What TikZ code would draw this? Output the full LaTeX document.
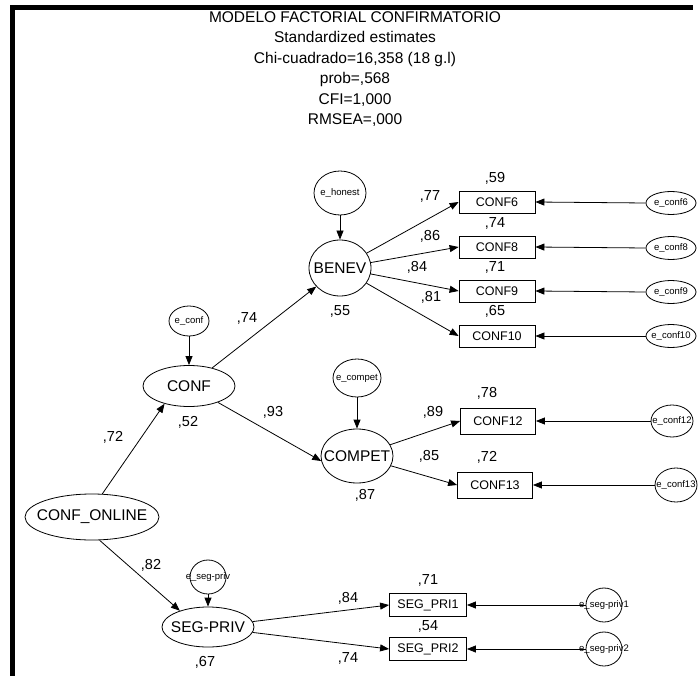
\documentclass[tikz,border=0pt]{standalone}
\usepackage{fontspec}
\setmainfont{Liberation Sans}
\usepackage{tikz}
\usetikzlibrary{arrows.meta,positioning,shapes.geometric}

\newcommand{\elab}[1]{\makebox[0pt]{#1}}

\begin{document}
\begin{tikzpicture}[x=1pt,y=-1pt,line width=0.8pt,>={Triangle[length=9pt,width=7pt]},
  lat/.style={draw,ellipse,inner sep=0pt,font=\fontsize{15.5}{16}\selectfont},
  err/.style={draw,ellipse,inner sep=0pt,font=\fontsize{9.5}{10}\selectfont},
  obs/.style={draw,rectangle,minimum width=76pt,minimum height=22pt,inner sep=0pt,
              font=\fontsize{12.5}{13}\selectfont},
  coef/.style={font=\fontsize{14.5}{15}\selectfont},
  ttl/.style={anchor=base,font=\fontsize{15.5}{16}\selectfont}]
  \useasboundingbox (0,0) rectangle (698,676);

  % frame
  \fill (10,5) rectangle (15,676);
  \fill (10,5) rectangle (693,10);

  % title
  \node[ttl] (t1) at (355,22.5) {MODELO FACTORIAL CONFIRMATORIO};
  \node[ttl] (t2) at (355,43)   {Standardized estimates};
  \node[ttl] (t3) at (355,63.5) {Chi-cuadrado=16,358 (18 g.l)};
  \node[ttl] (t4) at (355,84)   {prob=,568};
  \node[ttl] (t5) at (355,104.5) {CFI=1,000};
  \node[ttl] (t6) at (355,125)  {RMSEA=,000};

  % latent variables
  \node[lat,minimum width=134pt,minimum height=46pt] (confon) at (92,517) {\elab{CONF\_ONLINE}};
  \node[lat,minimum width=92pt,minimum height=41pt] (conf) at (189,386) {\elab{CONF}};
  \node[lat,minimum width=62pt,minimum height=56pt] (benev) at (340,268) {\elab{BENEV}};
  \node[lat,minimum width=72pt,minimum height=54pt] (compet) at (357,456) {\elab{COMPET}};
  \node[lat,minimum width=92pt,minimum height=40pt] (segpriv) at (208,627) {\elab{SEG-PRIV}};

  % disturbances
  \node[err,minimum width=40pt,minimum height=30pt] (econf) at (189,321) {\elab{e\_conf}};
  \node[err,minimum width=52pt,minimum height=44pt] (ehonest) at (340,193) {\elab{e\_honest}};
  \node[err,minimum width=48pt,minimum height=38pt] (ecompet) at (357,378) {\elab{e\_compet}};
  \node[err,minimum width=36pt,minimum height=34pt] (esegpriv) at (208,577) {\elab{e\_seg-priv}};

  % indicators
  \node[obs] (conf6)  at (497,202) {CONF6};
  \node[obs] (conf8)  at (497,247) {CONF8};
  \node[obs] (conf9)  at (497,291) {CONF9};
  \node[obs] (conf10) at (497,336) {CONF10};
  \node[obs,minimum width=75pt,minimum height=26pt] (conf12) at (498,421) {CONF12};
  \node[obs,minimum width=75pt,minimum height=26pt] (conf13) at (495,485) {CONF13};
  \node[obs,minimum width=77pt,minimum height=23pt] (segpri1) at (428,605) {SEG\_PRI1};
  \node[obs,minimum width=77pt,minimum height=23pt] (segpri2) at (428,649) {SEG\_PRI2};

  % measurement errors
  \node[err,minimum width=50pt,minimum height=23pt] (econf6)  at (671,203) {\elab{e\_conf6}};
  \node[err,minimum width=50pt,minimum height=23pt] (econf8)  at (671,248) {\elab{e\_conf8}};
  \node[err,minimum width=50pt,minimum height=23pt] (econf9)  at (671,292) {\elab{e\_conf9}};
  \node[err,minimum width=50pt,minimum height=23pt] (econf10) at (671,336) {\elab{e\_conf10}};
  \node[err,minimum width=42pt,minimum height=32pt] (econf12) at (672,421) {\elab{e\_conf12}};
  \node[err,minimum width=42pt,minimum height=34pt] (econf13) at (676,485) {\elab{e\_conf13}};
  \node[err,minimum width=36pt,minimum height=34pt] (esegpriv1) at (604,605) {\elab{e\_seg-priv1}};
  \node[err,minimum width=36pt,minimum height=34pt] (esegpriv2) at (604,649) {\elab{e\_seg-priv2}};

  % structural paths
  \draw[->] (confon.66) -- (conf.216);
  \draw[->] (confon.-72) -- (segpriv.150);
  \draw[->] (conf) -- (benev);
  \draw[->] (conf) -- (compet.188);
  \draw[->] (econf) -- (conf);
  \draw[->] (ehonest) -- (benev);
  \draw[->] (ecompet) -- (compet);
  \draw[->] (esegpriv) -- (segpriv);

  % loadings
  \foreach \v in {conf6,conf8,conf9,conf10}
    \draw[->] (benev) -- (\v.west);
  \draw[->] (compet) -- (conf12.west);
  \draw[->] (compet) -- (conf13.west);
  \draw[->] (segpriv) -- (segpri1.west);
  \draw[->] (segpriv) -- (segpri2.west);

  % errors on indicators
  \foreach \e/\v in {econf6/conf6,econf8/conf8,econf9/conf9,econf10/conf10,
                     econf12/conf12,econf13/conf13,esegpriv1/segpri1,esegpriv2/segpri2}
    \draw[->] (\e.west) -- (\v.east);

  % estimates
  \node[coef] (k1)  at (113,437) {,72};
  \node[coef] (k2)  at (151,565) {,82};
  \node[coef] (k3)  at (247,318) {,74};
  \node[coef] (k4)  at (273,412) {,93};
  \node[coef] (k5)  at (188,422) {,52};
  \node[coef] (k6)  at (340,311) {,55};
  \node[coef] (k7)  at (365,495) {,87};
  \node[coef] (k8)  at (205,662) {,67};
  \node[coef] (k9)  at (430,196) {,77};
  \node[coef] (k10) at (430,236) {,86};
  \node[coef] (k11) at (417,267) {,84};
  \node[coef] (k12) at (431,297) {,81};
  \node[coef] (k13) at (495,178) {,59};
  \node[coef] (k14) at (495,223) {,74};
  \node[coef] (k15) at (495,267) {,71};
  \node[coef] (k16) at (495,311) {,65};
  \node[coef] (k17) at (433,412) {,89};
  \node[coef] (k18) at (429,456) {,85};
  \node[coef] (k19) at (487,393) {,78};
  \node[coef] (k20) at (487,457) {,72};
  \node[coef] (k21) at (348,598) {,84};
  \node[coef] (k22) at (348,658) {,74};
  \node[coef] (k23) at (428,580) {,71};
  \node[coef] (k24) at (428,626) {,54};
\end{tikzpicture}
\end{document}
